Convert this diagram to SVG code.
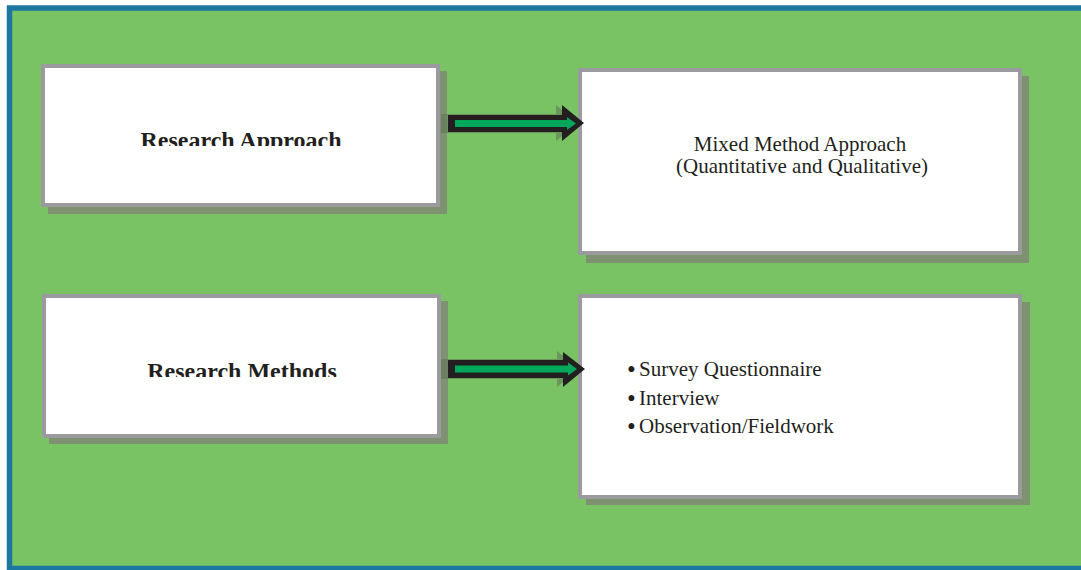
<svg xmlns="http://www.w3.org/2000/svg" width="1081" height="570" viewBox="0 0 1081 570">
<style>
.shadow{fill:#7e9170;}
.box{fill:#ffffff;stroke:#9b9b9f;stroke-width:4;}
.bold{font-family:"Liberation Serif","Times New Roman",serif;font-weight:bold;font-size:24px;fill:#231f20;}
.reg{font-family:"Liberation Serif","Times New Roman",serif;font-size:21px;fill:#231f20;}
.bul{font-size:25px;}
.arrowBlack{fill:#231f20;}
.arrowGreen{fill:#00a65a;}
.arrowGhost{fill:#5f6f58;opacity:0.55;}
</style>
<defs>
<clipPath id="clipA"><rect x="0" y="0" width="1081" height="146"/></clipPath>
<clipPath id="clipM"><rect x="0" y="300" width="1081" height="77"/></clipPath>
</defs>
<rect x="0" y="0" width="1081" height="570" fill="#ffffff"/>
<rect x="9.5" y="8" width="1080" height="560.5" fill="#79c365" stroke="#1c77a0" stroke-width="5.5"/>

<g id="node-research-approach">
<rect class="shadow" x="48" y="71" width="399" height="143"/>
<rect class="box" x="43" y="66" width="395" height="139"/>
<text class="bold" x="241" y="148" text-anchor="middle" clip-path="url(#clipA)">Research Approach</text>
</g>

<g id="node-mixed-method">
<rect class="shadow" x="586" y="76" width="443" height="187"/>
<rect class="box" x="580" y="70" width="440" height="183"/>
<text class="reg" x="800" y="151" text-anchor="middle">Mixed Method Approach</text>
<text class="reg" x="802" y="173" text-anchor="middle">(Quantitative and Qualitative)</text>
</g>

<g id="node-research-methods">
<rect class="shadow" x="49" y="301" width="399" height="143"/>
<rect class="box" x="44" y="296" width="395" height="140"/>
<text class="bold" x="242" y="379" text-anchor="middle" clip-path="url(#clipM)">Research Methods</text>
</g>

<g id="node-methods-list">
<rect class="shadow" x="586" y="302" width="444" height="203"/>
<rect class="box" x="580" y="296" width="440" height="201"/>
<text class="reg" y="376"><tspan class="bul" x="627" dy="2">•</tspan><tspan x="639" dy="-2">Survey Questionnaire</tspan></text>
<text class="reg" y="404.5"><tspan class="bul" x="627" dy="2">•</tspan><tspan x="639" dy="-2">Interview</tspan></text>
<text class="reg" y="433"><tspan class="bul" x="627" dy="2">•</tspan><tspan x="639" dy="-2">Observation/Fieldwork</tspan></text>
</g>

<g id="connectors">
<polygon class="arrowGhost" points="441,114 556,114 556,105 578,123 556,141 556,133 441,133"/>
<polygon class="arrowBlack" points="448,115 562,115 562,105 584,123 562,141 562,132 448,132"/>
<polygon class="arrowGreen" points="455,120 567,120 567,117 576,123.5 567,130 567,127 455,127"/>

<polygon class="arrowGhost" points="441,359 557,359 557,351 579,369 557,387 557,379 441,379"/>
<polygon class="arrowBlack" points="448,360 563,360 563,352 585,369 563,387 563,378 448,378"/>
<polygon class="arrowGreen" points="455,365.5 568,365.5 568,362.5 577,369 568,375.5 568,372.5 455,372.5"/>
</g>
</svg>
